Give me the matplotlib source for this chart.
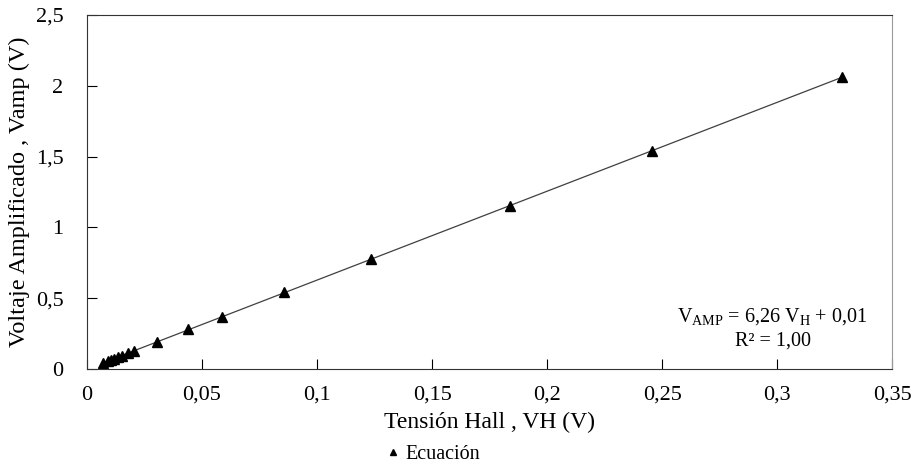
import numpy as np
import matplotlib
matplotlib.use('Agg')
from matplotlib import pyplot as plt
from matplotlib.ticker import FuncFormatter

plt.rcParams['font.family'] = ['Liberation Serif', 'DejaVu Serif']
plt.rcParams['mathtext.fontset'] = 'custom'
plt.rcParams['mathtext.rm'] = 'Liberation Serif'

# tension Hall (V) y voltaje amplificado (V)
vh = [0.007, 0.0092, 0.0105, 0.0118, 0.0135, 0.0153, 0.018, 0.0205,
      0.0306, 0.0437, 0.0585, 0.0855, 0.1235, 0.184, 0.2455, 0.328]
vamp = [0.045, 0.057, 0.066, 0.074, 0.085, 0.095, 0.113, 0.130,
        0.19, 0.28, 0.37, 0.545, 0.78, 1.15, 1.54, 2.06]

x_ticks = [0, 0.05, 0.1, 0.15, 0.2, 0.25, 0.3, 0.35]
y_ticks = [0, 0.5, 1, 1.5, 2, 2.5]


def coma(v, pos):
    s = ('%.2f' % v).rstrip('0').rstrip('.')
    return s.replace('.', ',')


fig = plt.figure(figsize=(9.13, 4.69), dpi=100)
ax = fig.add_axes([0.0953, 0.213, 0.882, 0.755])

m, b = np.polyfit(vh, vamp, 1)
xl = np.array([min(vh), max(vh)])
ax.plot(xl, m * xl + b, color='#404040', lw=0.9)
ax.plot(vh, vamp, '^', color='black', ms=6.5, label='Ecuación', ls='none')

ax.set_xlim(0, 0.35)
ax.set_ylim(0, 2.5)
ax.set_xticks(x_ticks)
ax.set_yticks(y_ticks)
ax.xaxis.set_major_formatter(FuncFormatter(coma))
ax.yaxis.set_major_formatter(FuncFormatter(coma))
ax.tick_params(direction='in', length=7, labelsize=16, width=0.8)
ax.tick_params(axis='x', pad=12)
ax.tick_params(axis='y', pad=17)

for s in ['left', 'bottom', 'top']:
    ax.spines[s].set_color('#333333')
ax.spines['right'].set_color('#999999')

ax.set_xlabel('Tensión Hall , VH (V)', fontsize=17, labelpad=5)
ax.set_ylabel('Voltaje Amplificado , Vamp (V)', fontsize=17.5, labelpad=4)

ax.text(0.298, 0.37, r'V$_{\mathrm{AMP}}$ = 6,26 V$_{\mathrm{H}}$ + 0,01',
        fontsize=14.5, ha='center', va='center')
ax.text(0.298, 0.2, 'R² = 1,00', fontsize=14.5, ha='center', va='center')

ax.legend(loc='upper center', bbox_to_anchor=(0.43, -0.18), frameon=False,
          fontsize=14.5, handlelength=0.6, handletextpad=0.3, markerscale=0.75,
          borderpad=0.1)

plt.savefig('out.png', dpi=100)
